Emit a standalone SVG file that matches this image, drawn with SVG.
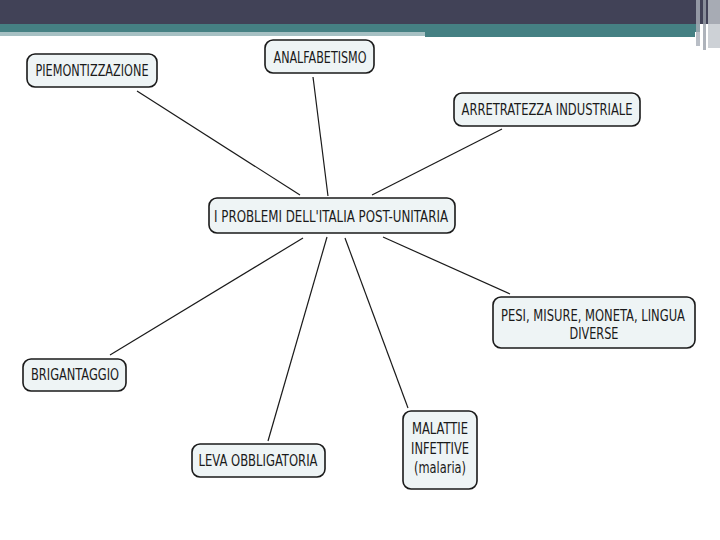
<svg xmlns="http://www.w3.org/2000/svg" width="720" height="540" viewBox="0 0 720 540">
<style>
.box{fill:#eef4f5;stroke:#1a1a1a;stroke-width:1.6}
.t{font-family:"DejaVu Sans Condensed","DejaVu Sans",sans-serif;font-size:15px;fill:#1a1a1a;text-anchor:middle}
.c{stroke:#1a1a1a;stroke-width:1.2;fill:none}
</style>
<rect x="0" y="0" width="720" height="540" fill="#ffffff"/>
<g id="header">
<rect x="0" y="0" width="720" height="24" fill="#414257"/>
<rect x="0" y="24" width="700" height="8" fill="#458083"/>
<rect x="0" y="32" width="425" height="4" fill="#a6c0c3"/>
<rect x="425" y="32" width="270" height="5" fill="#458083"/>
<rect x="696" y="0" width="4" height="46" fill="#a8aeb8" opacity="0.8"/>
<rect x="703" y="0" width="3" height="50" fill="#9aa0aa" opacity="0.8"/>
<rect x="708" y="0" width="12" height="48" fill="#c0c6cc" opacity="0.8"/>
</g>
<g id="connectors">
<line class="c" x1="137" y1="91" x2="300" y2="195"/>
<line class="c" x1="313" y1="77" x2="328" y2="196"/>
<line class="c" x1="502" y1="129" x2="372" y2="195"/>
<line class="c" x1="383" y1="237" x2="510" y2="294"/>
<line class="c" x1="303" y1="238" x2="110" y2="355"/>
<line class="c" x1="327" y1="237" x2="268" y2="441"/>
<line class="c" x1="345" y1="238" x2="408" y2="408"/>
</g>
<g id="n-center">
<rect class="box" x="209" y="198" width="246" height="35" rx="8"/>
<text class="t" x="331" y="222" textLength="234" lengthAdjust="spacingAndGlyphs">I PROBLEMI DELL'ITALIA POST-UNITARIA</text>
</g>
<g id="n-piemont">
<rect class="box" x="27" y="54" width="130" height="33" rx="8"/>
<text class="t" x="92" y="76" textLength="113" lengthAdjust="spacingAndGlyphs">PIEMONTIZZAZIONE</text>
</g>
<g id="n-analf">
<rect class="box" x="265" y="40" width="109" height="33" rx="8"/>
<text class="t" x="320" y="63" textLength="93" lengthAdjust="spacingAndGlyphs">ANALFABETISMO</text>
</g>
<g id="n-arretr">
<rect class="box" x="454" y="93" width="186" height="33" rx="8"/>
<text class="t" x="547" y="115" textLength="171" lengthAdjust="spacingAndGlyphs">ARRETRATEZZA  INDUSTRIALE</text>
</g>
<g id="n-pesi">
<rect class="box" x="493" y="297" width="202" height="51" rx="8"/>
<text class="t" x="593" y="321" textLength="184" lengthAdjust="spacingAndGlyphs">PESI, MISURE, MONETA, LINGUA</text>
<text class="t" x="594" y="339" textLength="49" lengthAdjust="spacingAndGlyphs">DIVERSE</text>
</g>
<g id="n-brig">
<rect class="box" x="23" y="359" width="103" height="32" rx="8"/>
<text class="t" x="75" y="380" textLength="88" lengthAdjust="spacingAndGlyphs">BRIGANTAGGIO</text>
</g>
<g id="n-leva">
<rect class="box" x="192" y="444" width="133" height="33" rx="8"/>
<text class="t" x="258" y="466" textLength="119" lengthAdjust="spacingAndGlyphs">LEVA OBBLIGATORIA</text>
</g>
<g id="n-malattie">
<rect class="box" x="403" y="411" width="74" height="78" rx="8"/>
<text class="t" x="440" y="434" textLength="56" lengthAdjust="spacingAndGlyphs">MALATTIE</text>
<text class="t" x="440" y="454" textLength="58" lengthAdjust="spacingAndGlyphs">INFETTIVE</text>
<text class="t" x="440" y="473" textLength="52" lengthAdjust="spacingAndGlyphs">(malaria)</text>
</g>
</svg>
